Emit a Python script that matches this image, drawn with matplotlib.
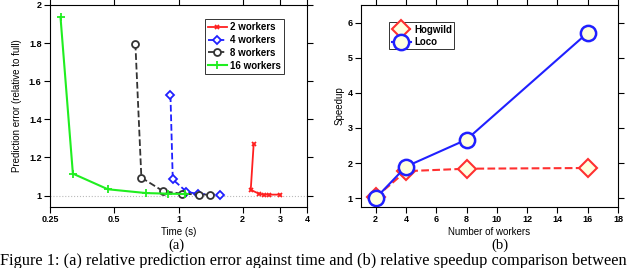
import matplotlib
matplotlib.use('Agg')
import matplotlib.pyplot as plt
from matplotlib.ticker import FixedLocator, NullLocator

plt.rcParams['font.family'] = ['Liberation Sans', 'DejaVu Sans']
plt.rcParams['font.weight'] = 'bold'

# (a) prediction error vs time
t2 = [2.25, 2.18, 2.38, 2.51, 2.65, 3.0]
e2 = [1.27, 1.03, 1.01, 1.005, 1.005, 1.005]
t4 = [0.917, 0.94, 1.09, 1.24, 1.56]
e4 = [1.526, 1.085, 1.02, 1.008, 1.005]
t8 = [0.628, 0.67, 0.85, 1.04, 1.25, 1.40]
e8 = [1.797, 1.094, 1.022, 1.01, 1.005, 1.005]
t16 = [0.28, 0.32, 0.467, 0.707, 0.89, 1.07]
e16 = [1.936, 1.115, 1.033, 1.013, 1.01, 1.008]
xticks_a = [0.25, 0.5, 1, 2, 3, 4]
yticks_a = [1, 1.2, 1.4, 1.6, 1.8, 2]

# (b) speedup
workers = [2, 4, 8, 16]
hogwild = [1.03, 1.77, 1.84, 1.86]
loco = [1.0, 1.9, 2.67, 5.71]

fig = plt.figure(figsize=(6.4, 2.68), dpi=100)
ax1 = fig.add_axes([50/640, 1 - 207/268, 257/640, 202/268])
ax2 = fig.add_axes([361/640, 1 - 207/268, 257/640, 202/268])

ax1.axhline(1, color='#bbbbbb', ls=':', lw=0.8, zorder=0)
ax1.plot(t2, e2, color='#ff2020', lw=1.3, marker='x', ms=3.5, mew=1.3, label='2 workers')
ax1.plot(t4, e4, color='#2020ff', lw=1.3, ls='--', marker='D', ms=4, mfc='white', mew=1.3, label='4 workers')
ax1.plot(t8, e8, color='#333333', lw=1.3, ls='--', marker='o', ms=5, mfc='white', mew=1.3, label='8 workers')
ax1.plot(t16, e16, color='#20ee20', lw=1.5, marker='+', ms=6, mew=1.3, label='16 workers')
ax1.set_xscale('log')
ax1.set_xlim(0.25, 4)
ax1.set_ylim(0.94, 2.0)
ax1.xaxis.set_major_locator(FixedLocator(xticks_a))
ax1.xaxis.set_minor_locator(NullLocator())
ax1.set_xticklabels(['0.25', '0.5', '1', '2', '3', '4'])
ax1.set_yticks(yticks_a)
ax1.set_yticklabels(['1', '1.2', '1.4', '1.6', '1.8', '2'])
ax1.set_xlabel('Time (s)', fontsize=7, labelpad=2)
ax1.set_ylabel('Prediction error (relative to full)', fontsize=7, labelpad=5)
leg = ax1.legend(loc='upper right', bbox_to_anchor=(0.91, 0.93), fontsize=7, frameon=True,
                 fancybox=False, edgecolor='black', handlelength=2.0, handletextpad=0.3,
                 borderpad=0.3, labelspacing=0.3, borderaxespad=0)
leg.get_frame().set_linewidth(0.7)

ax2.plot(workers, hogwild, color='#ff3030', lw=1.5, ls='--', marker='D', ms=9, mfc='#ffffe0',
         mec='#ff3030', mew=1.5, label='Hogwild')
ax2.plot(workers, loco, color='#2020ff', lw=1.5, marker='o', ms=11, mfc='#ffffe0',
         mec='#2020ff', mew=1.8, label='Loco')
ax2.set_xlim(1.03, 18)
ax2.set_ylim(0.75, 6.5)
ax2.set_xticks(range(2, 19, 2))
ax2.set_yticks(range(1, 7))
ax2.set_xlabel('Number of workers', fontsize=7, labelpad=2)
ax2.set_ylabel('Speedup', fontsize=7, labelpad=2)
leg2 = ax2.legend(loc='upper left', bbox_to_anchor=(0.11, 0.915), fontsize=7, frameon=True,
                  fancybox=False, edgecolor='black', handlelength=2.0, handletextpad=0.3,
                  borderpad=0.25, labelspacing=0.25, borderaxespad=0)
leg2.get_frame().set_linewidth(0.7)

for ax in (ax1, ax2):
    for s in ax.spines.values():
        s.set_linewidth(0.8)
    ax.tick_params(which='both', direction='out', length=4, width=0.8, labelsize=6.5, pad=2,
                   top=True, right=True)

serif = dict(family='Liberation Serif', fontweight='normal')
fig.text(176/640, 1 - 245/268, '(a)', ha='center', va='center', fontsize=10.5, **serif)
fig.text(500/640, 1 - 245/268, '(b)', ha='center', va='center', fontsize=10.5, **serif)
fig.text(0.0, 1 - 265/268, 'Figure 1: (a) relative prediction error against time and (b) relative speedup comparison between',
         ha='left', va='baseline', fontsize=11.8, **serif)

fig.savefig('out.png', dpi=100)
